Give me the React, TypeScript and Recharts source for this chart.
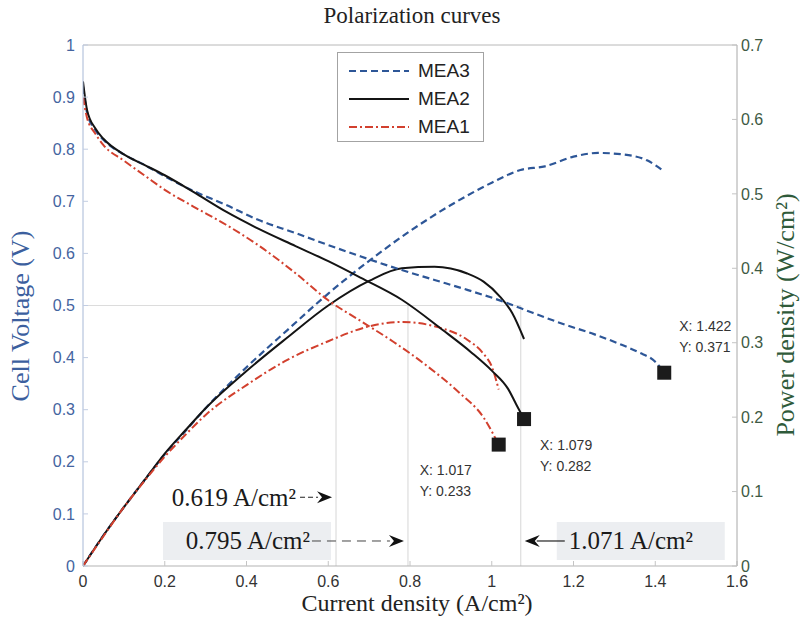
import React from 'react';
import { ComposedChart, Line, Scatter, XAxis, YAxis, ReferenceLine, ReferenceDot } from 'recharts';

// Polarization (cell voltage) and power density curves for three MEAs
const mea3VoltCurrent = [0, 0.01, 0.03, 0.05, 0.1, 0.15, 0.2, 0.27, 0.35, 0.43, 0.52, 0.6, 0.68, 0.78, 0.86, 0.94, 1.03, 1.1, 1.18, 1.25, 1.31, 1.36, 1.4, 1.422];
const mea3Voltage = [0.92, 0.87, 0.837, 0.818, 0.79, 0.77, 0.748, 0.72, 0.693, 0.664, 0.639, 0.616, 0.594, 0.568, 0.549, 0.53, 0.507, 0.486, 0.463, 0.445, 0.427, 0.41, 0.392, 0.371];
const mea3PowerCurrent = [0, 0.05, 0.1, 0.15, 0.2, 0.25, 0.3, 0.4, 0.5, 0.6, 0.7, 0.8, 0.9, 1.0, 1.07, 1.13, 1.2, 1.26, 1.32, 1.38, 1.422];
const mea3Power = [0, 0.041, 0.079, 0.115, 0.15, 0.181, 0.212, 0.267, 0.317, 0.366, 0.41, 0.45, 0.485, 0.515, 0.532, 0.537, 0.55, 0.555, 0.553, 0.545, 0.53];

const mea2VoltCurrent = [0, 0.01, 0.03, 0.05, 0.1, 0.15, 0.2, 0.27, 0.35, 0.43, 0.52, 0.6, 0.68, 0.78, 0.88, 0.95, 1.0, 1.04, 1.06, 1.079];
const mea2Voltage = [0.93, 0.875, 0.84, 0.82, 0.79, 0.77, 0.75, 0.718, 0.68, 0.647, 0.614, 0.585, 0.553, 0.511, 0.453, 0.41, 0.375, 0.34, 0.31, 0.282];
const mea2PowerCurrent = [0, 0.05, 0.1, 0.15, 0.2, 0.25, 0.3, 0.4, 0.5, 0.6, 0.7, 0.78, 0.86, 0.94, 0.98, 1.02, 1.05, 1.079];
const mea2Power = [0, 0.041, 0.079, 0.115, 0.151, 0.182, 0.212, 0.262, 0.307, 0.35, 0.383, 0.4, 0.402, 0.393, 0.382, 0.362, 0.34, 0.305];

const mea1VoltCurrent = [0, 0.01, 0.03, 0.05, 0.1, 0.15, 0.2, 0.27, 0.35, 0.43, 0.52, 0.6, 0.68, 0.76, 0.84, 0.92, 0.98, 1.017];
const mea1Voltage = [0.9, 0.86, 0.83, 0.808, 0.778, 0.75, 0.722, 0.69, 0.655, 0.615, 0.562, 0.51, 0.47, 0.43, 0.385, 0.333, 0.285, 0.233];
const mea1PowerCurrent = [0, 0.05, 0.1, 0.15, 0.2, 0.25, 0.3, 0.4, 0.5, 0.6, 0.7, 0.78, 0.86, 0.94, 0.98, 1.0, 1.017];
const mea1Power = [0, 0.04, 0.079, 0.114, 0.147, 0.176, 0.203, 0.243, 0.277, 0.302, 0.322, 0.328, 0.322, 0.304, 0.285, 0.268, 0.237];

// data tips at the end of each polarization curve
const tipNames = ['MEA3', 'MEA2', 'MEA1'];
const tipCurrent = [1.422, 1.079, 1.017];
const tipVoltage = [0.371, 0.282, 0.233];

// current densities at maximum power
const peakCurrents = [0.619, 0.795, 1.071];

const xTicks = [0, 0.2, 0.4, 0.6, 0.8, 1, 1.2, 1.4, 1.6];
const voltTicks = [0, 0.1, 0.2, 0.3, 0.4, 0.5, 0.6, 0.7, 0.8, 0.9, 1];
const powerTicks = [0, 0.1, 0.2, 0.3, 0.4, 0.5, 0.6, 0.7];

const zip = (xs: number[], ys: number[], key: string) => xs.map((x, i) => ({ x, [key]: ys[i] }));

const mea3V = zip(mea3VoltCurrent, mea3Voltage, 'v');
const mea3P = zip(mea3PowerCurrent, mea3Power, 'p');
const mea2V = zip(mea2VoltCurrent, mea2Voltage, 'v');
const mea2P = zip(mea2PowerCurrent, mea2Power, 'p');
const mea1V = zip(mea1VoltCurrent, mea1Voltage, 'v');
const mea1P = zip(mea1PowerCurrent, mea1Power, 'p');
const tips = tipNames.map((name, i) => ({ name, x: tipCurrent[i], v: tipVoltage[i] }));

const BLUE = '#2d5697';
const BLACK = '#141414';
const RED = '#d2402e';
const SERIF = '"Liberation Serif", "Times New Roman", serif';
const SANS = '"Liberation Sans", Arial, sans-serif';

// where each data tip's text sits relative to its marker
const tipTextOffset: Record<string, { dx: number; dy: number }> = {
  MEA3: { dx: 15, dy: -47 },
  MEA2: { dx: 16, dy: 26 },
  MEA1: { dx: -79, dy: 25 },
};

const TipMarker = (props: any) => {
  const { cx, cy, payload } = props;
  const off = tipTextOffset[payload.name];
  return (
    <g>
      <rect x={cx - 7} y={cy - 7} width={14} height={14} fill="#1b1b1b" />
      <text x={cx + off.dx} y={cy + off.dy} fontFamily={SANS} fontSize={14} fill="#333" dominantBaseline="central">
        {`X: ${payload.x.toFixed(3)}`}
      </text>
      <text x={cx + off.dx} y={cy + off.dy + 21} fontFamily={SANS} fontSize={14} fill="#333" dominantBaseline="central">
        {`Y: ${payload.v.toFixed(3)}`}
      </text>
    </g>
  );
};

const arrowHead = (tip: number, y: number, dir: 1 | -1) =>
  `${tip},${y} ${tip - dir * 15},${y - 6} ${tip - dir * 10},${y} ${tip - dir * 15},${y + 6}`;

const annText = (value: number) => `${value.toFixed(3)} A/cm²`;

// label left of the line, short dashed arrow pointing right
const LeftShortArrow = (props: any) => {
  const { cx, cy } = props;
  return (
    <g>
      <text x={cx - 40} y={cy} textAnchor="end" dominantBaseline="central" fontFamily={SERIF} fontSize={25} fill="#1a1a1a">
        {annText(peakCurrents[0])}
      </text>
      <line x1={cx - 36} x2={cx - 18} y1={cy} y2={cy} stroke="#222" strokeWidth={1.2} strokeDasharray="5 3" />
      <polygon points={arrowHead(cx - 4, cy, 1)} fill="#111" />
    </g>
  );
};

// label left of the line, long dashed arrow pointing right
const LeftLongArrow = (props: any) => {
  const { cx, cy } = props;
  return (
    <g>
      <rect x={cx - 245} y={cy - 19} width={168} height={38} fill="#eceef1" />
      <text x={cx - 98} y={cy} textAnchor="end" dominantBaseline="central" fontFamily={SERIF} fontSize={25} fill="#1a1a1a">
        {annText(peakCurrents[1])}
      </text>
      <line x1={cx - 96} x2={cx - 18} y1={cy} y2={cy} stroke="#444" strokeWidth={1} strokeDasharray="9 6" />
      <polygon points={arrowHead(cx - 4, cy, 1)} fill="#111" />
    </g>
  );
};

// label right of the line, arrow pointing left
const RightArrow = (props: any) => {
  const { cx, cy } = props;
  return (
    <g>
      <rect x={cx + 36} y={cy - 19} width={168} height={38} fill="#eceef1" />
      <polygon points={arrowHead(cx + 4, cy, -1)} fill="#111" />
      <line x1={cx + 16} x2={cx + 44} y1={cy} y2={cy} stroke="#222" strokeWidth={1.2} />
      <text x={cx + 48} y={cy} dominantBaseline="central" fontFamily={SERIF} fontSize={25} fill="#1a1a1a">
        {annText(peakCurrents[2])}
      </text>
    </g>
  );
};

const legendItems = [
  { name: 'MEA3', color: BLUE, dash: '7 4' },
  { name: 'MEA2', color: BLACK, dash: undefined },
  { name: 'MEA1', color: RED, dash: '8 3 2 3' },
];

const tickFont = { fontFamily: SANS, fontSize: 16 };

export default function App() {
  return (
    <div style={{ position: 'absolute', left: 0, top: 0, width: 806, height: 634, background: '#fff', overflow: 'hidden' }}>
      <ComposedChart width={806} height={634} margin={{ top: 45, right: 29, bottom: 43, left: 43 }}>
        {/* inward ticks, MATLAB style */}
        <XAxis
          type="number"
          dataKey="x"
          domain={[0, 1.6]}
          ticks={xTicks}
          allowDataOverflow
          stroke="#b3b3b3"
          tickLine={{ stroke: '#c4c4c4' }}
          tickSize={-5}
          tickMargin={15}
          height={25}
          tick={{ ...tickFont, fill: '#333' }}
        />
        <YAxis
          yAxisId="v"
          domain={[0, 1]}
          ticks={voltTicks}
          width={40}
          stroke="#a7b8d6"
          tickLine={{ stroke: '#c2cde2' }}
          tickSize={-5}
          tickMargin={13}
          tick={{ ...tickFont, fill: '#44649f' }}
        />
        <YAxis
          yAxisId="p"
          orientation="right"
          domain={[0, 0.7]}
          ticks={powerTicks}
          width={40}
          stroke="#a8a8a8"
          tickLine={{ stroke: '#c4c4c4' }}
          tickSize={-5}
          tickMargin={9}
          tick={{ ...tickFont, fill: '#3e5a44' }}
        />
        <ReferenceLine yAxisId="v" y={1} stroke="#b8b8b8" />
        <ReferenceLine yAxisId="v" segment={[{ x: 0, y: 0.5 }, { x: peakCurrents[2], y: 0.5 }]} stroke="#dcdcdc" />
        {peakCurrents.map((c) => (
          <ReferenceLine key={c} yAxisId="v" segment={[{ x: c, y: 0 }, { x: c, y: 0.5 }]} stroke="#d6d6d6" />
        ))}
        <ReferenceDot yAxisId="v" x={peakCurrents[0]} y={0.132} shape={LeftShortArrow} />
        <ReferenceDot yAxisId="v" x={peakCurrents[1]} y={0.048} shape={LeftLongArrow} />
        <ReferenceDot yAxisId="v" x={peakCurrents[2]} y={0.048} shape={RightArrow} />

        <Line yAxisId="p" data={mea3P} dataKey="p" type="monotone" stroke={BLUE} strokeWidth={2.2} strokeDasharray="7 4" dot={false} isAnimationActive={false} />
        <Line yAxisId="p" data={mea2P} dataKey="p" type="monotone" stroke={BLACK} strokeWidth={2} dot={false} isAnimationActive={false} />
        <Line yAxisId="p" data={mea1P} dataKey="p" type="monotone" stroke={RED} strokeWidth={2} strokeDasharray="8 3 2 3" dot={false} isAnimationActive={false} />
        <Line yAxisId="v" data={mea3V} dataKey="v" type="monotone" stroke={BLUE} strokeWidth={2.2} strokeDasharray="7 4" dot={false} isAnimationActive={false} />
        <Line yAxisId="v" data={mea2V} dataKey="v" type="monotone" stroke={BLACK} strokeWidth={2} dot={false} isAnimationActive={false} />
        <Line yAxisId="v" data={mea1V} dataKey="v" type="monotone" stroke={RED} strokeWidth={2} strokeDasharray="8 3 2 3" dot={false} isAnimationActive={false} />
        <Scatter yAxisId="v" data={tips} dataKey="v" shape={TipMarker} isAnimationActive={false} />
      </ComposedChart>

      <div style={{ position: 'absolute', left: 0, width: 806, top: 3, textAlign: 'center', paddingLeft: 18, boxSizing: 'border-box', fontFamily: SERIF, fontSize: 23, color: '#222' }}>
        Polarization curves
      </div>
      <div style={{ position: 'absolute', left: 0, width: 806, top: 590, textAlign: 'center', paddingLeft: 28, boxSizing: 'border-box', fontFamily: SERIF, fontSize: 24, color: '#222' }}>
        Current density (A/cm²)
      </div>
      <div style={{ position: 'absolute', left: 21, top: 316, transform: 'translate(-50%, -50%) rotate(-90deg)', whiteSpace: 'nowrap', fontFamily: SERIF, fontSize: 26, color: '#3c5f9e' }}>
        Cell Voltage (V)
      </div>
      <div style={{ position: 'absolute', left: 786, top: 315, transform: 'translate(-50%, -50%) rotate(-90deg)', whiteSpace: 'nowrap', fontFamily: SERIF, fontSize: 26, color: '#2f5a3a' }}>
        Power density (W/cm²)
      </div>

      <div style={{ position: 'absolute', left: 337, top: 52, width: 147, height: 90, border: '1px solid #a3a3a3', background: '#fff', boxSizing: 'border-box', padding: '4px 0 0 10px' }}>
        {legendItems.map((it) => (
          <div key={it.name} style={{ display: 'flex', alignItems: 'center', height: 28 }}>
            <svg width={62} height={10}>
              <line x1={1} x2={61} y1={5} y2={5} stroke={it.color} strokeWidth={2.2} strokeDasharray={it.dash} />
            </svg>
            <span style={{ marginLeft: 8, fontFamily: SANS, fontSize: 19, color: '#222' }}>{it.name}</span>
          </div>
        ))}
      </div>
    </div>
  );
}
